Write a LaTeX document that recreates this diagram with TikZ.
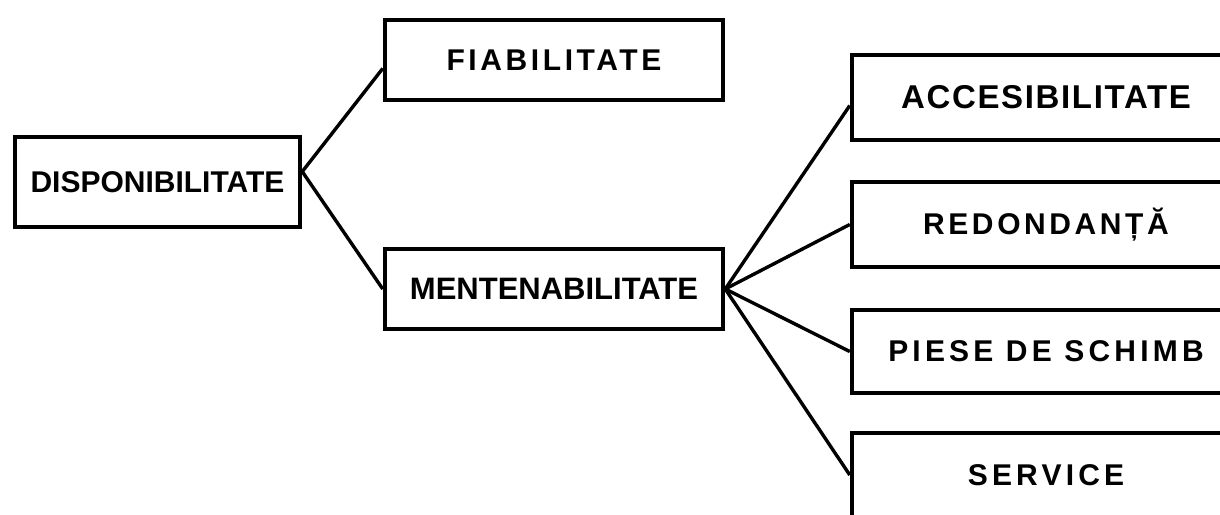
\documentclass[tikz,border=0pt]{standalone}
\usepackage{fontspec}
\setmainfont{Liberation Sans}
\usepackage{tikz}
\usetikzlibrary{positioning,calc}
\newcommand{\lsp}[3]{{\fontsize{#1}{#1}\selectfont\bfseries\addfontfeatures{LetterSpace=#2}#3}}

\begin{document}
\begin{tikzpicture}[x=1pt, y=-1pt,
    blk/.style={draw, line width=4.5pt, inner sep=0pt, minimum height=#1},
    blk/.default=80pt,
    wide/.style={blk=#1, minimum width=388pt},
    link/.style={line width=3.4pt}]
	  \useasboundingbox (0,0) rectangle (1220,514);
	  % left column
	  \node[blk=90pt, minimum width=285pt] (disp) at (157.5,182) {\lsp{30}{0}{DISPONIBILITATE}};
	  % middle column
	  \node[blk, minimum width=338pt] (fiab) at (554,60) {\lsp{30}{12}{FIABILITATE}};
	  \node[blk, minimum width=338pt] (ment) at (554,289) {\lsp{31}{0}{MENTENABILITATE}};
	  % right column
	  \node[wide=85pt] (acces) at (1046,97.5) {\lsp{33}{5}{ACCESIBILITATE}};
	  \node[wide=85pt] (redon) at (1046,224.5) {\lsp{30}{12}{REDONDANȚĂ}};
	  \node[wide=83pt] (piese) at (1046,351.5) {\lsp{30}{14}{PIESE DE SCHIMB}};
	  \node[wide=84pt] (serv) at (1046,475) {\lsp{30}{14}{SERVICE}};
	  \coordinate (djoin) at ($(disp.north east)!0.39!(disp.south east)$);
	  \coordinate (fjoin) at ($(fiab.north west)!0.6!(fiab.south west)$);
	  \coordinate (ajoin) at ($(acces.north west)!0.59!(acces.south west)$);
	  \path[link]
	  (djoin) edge (fjoin)
	          edge (ment.west)
	  (ment.east) edge (ajoin)
	              edge (redon.west)
	              edge (piese.west)
	              edge (serv.west);
\end{tikzpicture}
\end{document}
